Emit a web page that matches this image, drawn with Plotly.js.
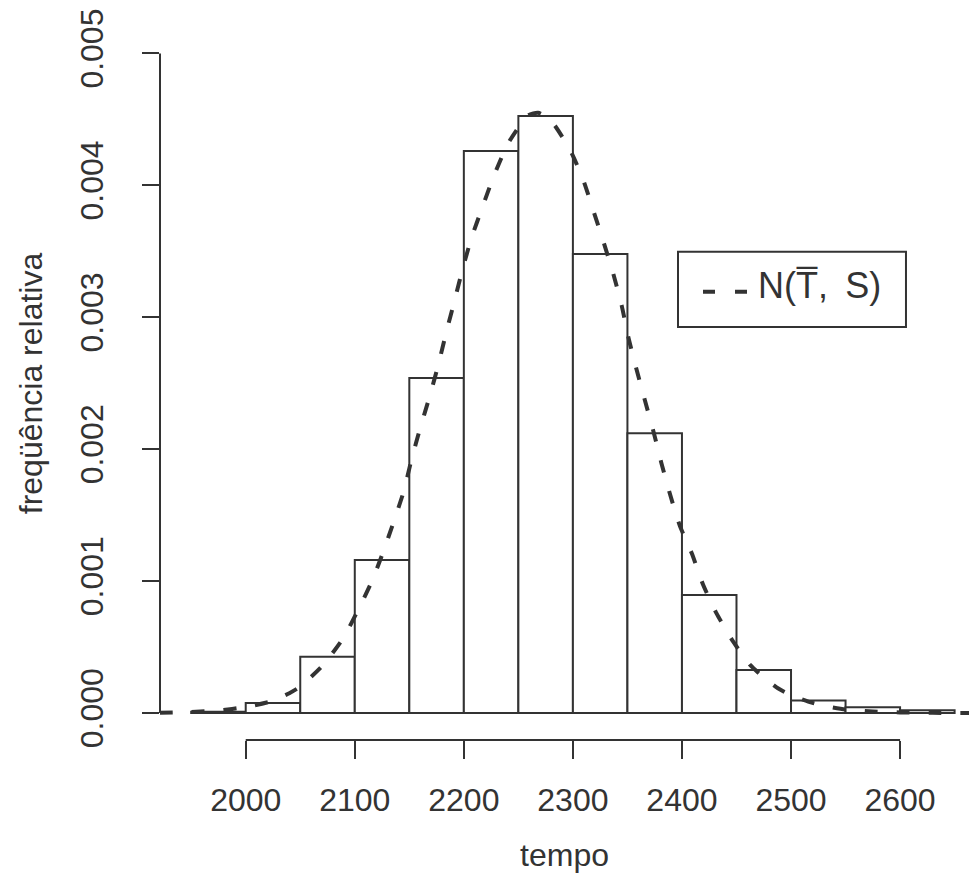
<!DOCTYPE html>
<html>
<head>
<meta charset="utf-8">
<script src="https://cdn.plot.ly/plotly-3.0.1.min.js"></script>
<style>html,body{margin:0;padding:0;background:#fff;overflow:hidden}</style>
</head>
<body>
<div id="chart" style="width:969px;height:896px"></div>
<script>
// Histogram bins (midpoints, width 50) and relative-frequency densities
const binMids = [1975, 2025, 2075, 2125, 2175, 2225, 2275, 2325, 2375, 2425, 2475, 2525, 2575, 2625];
const binDensity = [0.00001, 0.000076, 0.000427, 0.00116, 0.00254, 0.00426, 0.004525, 0.00348, 0.00212, 0.000894, 0.000326, 0.0000935, 0.000043, 0.00002];
const binWidth = 50;

// Dashed normal curve N(T, S)
const curveX = [1921, 1950, 1975, 2000, 2024, 2040, 2050, 2071, 2089.5, 2103, 2115.5, 2126, 2135.3, 2144.5, 2152, 2160, 2169, 2176.6, 2184, 2191.6, 2199, 2207, 2216.4, 2227, 2240.8, 2259, 2268, 2279, 2297.3, 2309.5, 2318.7, 2327.7, 2337, 2344.7, 2350.8, 2358.5, 2366, 2373.7, 2381.3, 2389, 2398, 2409, 2419.5, 2431.7, 2447, 2462.5, 2475, 2488, 2500, 2515.8, 2530, 2550, 2575, 2600, 2630, 2665];
const curveY = [0.000001, 0.000007, 0.000019, 0.000045, 0.00009, 0.00015, 0.0002, 0.000364, 0.000568, 0.00078, 0.000995, 0.00122, 0.00144, 0.00167, 0.00192, 0.00216, 0.00241, 0.00264, 0.00289, 0.00313, 0.00337, 0.0036, 0.00382, 0.00406, 0.00432, 0.00453, 0.00455, 0.0045, 0.00427, 0.00404, 0.00381, 0.00358, 0.00333, 0.00309, 0.00285, 0.0026, 0.00237, 0.00214, 0.00189, 0.00166, 0.00142, 0.00121, 0.00097, 0.000755, 0.00054, 0.000364, 0.00027, 0.000187, 0.000135, 0.000086, 0.000055, 0.000026, 0.000011, 0.000004, 0.000001, 0];

const xTicks = [2000, 2100, 2200, 2300, 2400, 2500, 2600];
const xTickText = ['2000', '2100', '2200', '2300', '2400', '2500', '2600'];
const yTicks = [0, 0.001, 0.002, 0.003, 0.004, 0.005];
const yTickText = ['0.000', '0.001', '0.002', '0.003', '0.004', '0.005'];

const xLabel = 'tempo';
const yLabel = 'freqüência relativa';
const legendLabel = 'N(T\u0305,\u2009 S)';

const ink = '#333333';
const fontFam = '"Liberation Sans", Arial, sans-serif';
const fs = 32;

const traces = [
  {
    type: 'bar',
    x: binMids,
    y: binDensity,
    width: binDensity.map(() => binWidth),
    marker: {color: '#ffffff', line: {color: ink, width: 2}},
    hoverinfo: 'x+y',
    showlegend: false
  },
  {
    type: 'scatter',
    mode: 'lines',
    x: curveX,
    y: curveY,
    line: {color: ink, width: 4, dash: '13px,19px', shape: 'spline', smoothing: 0.6},
    showlegend: false
  }
];

const layout = {
  width: 969,
  height: 896,
  margin: {l: 160, r: 0, t: 27, b: 156, pad: 0},
  paper_bgcolor: '#ffffff',
  plot_bgcolor: '#ffffff',
  showlegend: false,
  bargap: 0,
  font: {family: fontFam, color: ink, size: fs},
  xaxis: {
    range: [1921.4, 2663.2],
    tickmode: 'array',
    tickvals: xTicks,
    ticktext: xTickText,
    ticks: 'outside',
    ticklen: 18,
    tickwidth: 2,
    tickcolor: ink,
    showline: false,
    showgrid: false,
    zeroline: false,
    tickfont: {family: fontFam, size: fs, color: ink},
    ticklabelstandoff: 14,
    title: {text: xLabel, font: {family: fontFam, size: fs, color: ink}, standoff: 26}
  },
  yaxis: {
    range: [-0.000205, 0.0052],
    tickmode: 'array',
    tickvals: yTicks,
    ticktext: yTickText,
    tickangle: -90,
    ticks: 'outside',
    ticklen: 17,
    tickwidth: 2,
    tickcolor: ink,
    showline: false,
    showgrid: false,
    zeroline: false,
    tickfont: {family: fontFam, size: fs, color: ink},
    ticklabelstandoff: 26,
    title: {text: yLabel, font: {family: fontFam, size: fs, color: ink}, standoff: 22}
  },
  shapes: [
    {type: 'line', xref: 'x', yref: 'paper', x0: xTicks[0], x1: xTicks[xTicks.length - 1], y0: 0, y1: 0, line: {color: ink, width: 2}},
    {type: 'line', xref: 'paper', yref: 'y', x0: 0, x1: 0, y0: yTicks[0], y1: yTicks[yTicks.length - 1], line: {color: ink, width: 2}},
    {type: 'rect', xref: 'paper', yref: 'paper', x0: 0.6403, x1: 0.9221, y0: 0.5792, y1: 0.6849, line: {color: ink, width: 2}, fillcolor: 'rgba(0,0,0,0)'},
    {type: 'line', xref: 'paper', yref: 'paper', x0: 0.6712, x1: 0.7256, y0: 0.6287, y1: 0.6287, line: {color: ink, width: 4, dash: '12px,20px'}}
  ],
  annotations: [
    {xref: 'paper', yref: 'paper', x: 0.7367, y: 0.6370, xanchor: 'left', yanchor: 'middle', showarrow: false, text: legendLabel, font: {family: fontFam, size: 36, color: ink}}
  ]
};

Plotly.newPlot('chart', traces, layout, {displayModeBar: false, staticPlot: true});
</script>
</body>
</html>
